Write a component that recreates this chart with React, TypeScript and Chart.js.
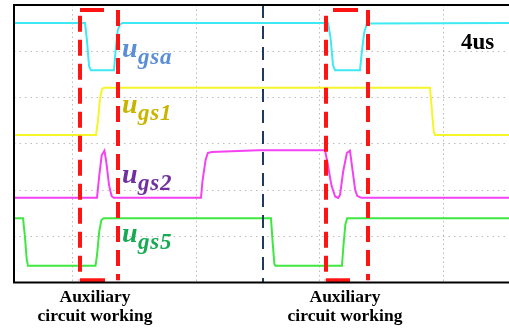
import React, { useEffect, useRef } from "react";
import { Chart, registerables } from "chart.js";

Chart.register(...registerables);

// time axis (us), 4 us / div
const X_MIN = -1.913;
const X_MAX = 14.137;
const X_GRID = [0, 4, 8, 12];
const Y_GRID = [1, 2, 3, 4, 5];

// traces: [time, level]
const UGSA_T = [-1.913, 0.389, 0.45, 0.52, 0.58, 1.33, 1.38, 1.45, 1.52, 1.6, 8.268, 8.35, 8.43, 8.495, 9.306, 9.36, 9.44, 9.53, 14.137];
const UGSA_V = [5.61, 5.61, 5.25, 4.68, 4.59, 4.59, 5.0, 5.45, 5.58, 5.61, 5.61, 5.3, 4.7, 4.59, 4.59, 4.95, 5.4, 5.6, 5.61];

const UGS1_T = [-1.913, 0.746, 0.81, 0.88, 0.94, 1.0, 11.576, 11.64, 11.7, 11.738, 14.137];
const UGS1_V = [3.19, 3.19, 3.5, 4.0, 4.18, 4.21, 4.21, 3.7, 3.25, 3.19, 3.19];

const UGS2_T = [-1.913, 0.778, 0.85, 0.93, 1.02, 1.08, 1.17, 1.25, 1.32, 4.15, 4.2, 4.3, 4.37, 4.5, 6.0, 8.171, 8.25, 8.38, 8.5, 8.6, 8.66, 8.76, 8.88, 8.98, 9.05, 9.15, 9.22, 9.35, 14.137];
const UGS2_V = [1.83, 1.83, 2.3, 2.75, 2.85, 2.6, 2.1, 1.87, 1.83, 1.83, 2.2, 2.65, 2.8, 2.82, 2.86, 2.86, 2.6, 2.1, 1.86, 1.83, 1.9, 2.4, 2.8, 2.85, 2.5, 2.0, 1.87, 1.83, 1.83];

const UGS5_T = [-1.913, -1.62, -1.56, -1.5, -1.46, 0.73, 0.78, 0.85, 0.92, 1.0, 6.42, 6.47, 6.53, 6.56, 8.72, 8.77, 8.83, 8.89, 14.137];
const UGS5_V = [1.39, 1.39, 1.0, 0.5, 0.36, 0.36, 0.6, 1.1, 1.35, 1.39, 1.39, 0.9, 0.4, 0.36, 0.36, 0.8, 1.25, 1.39, 1.39];

// annotation marks: "auxiliary circuit working" windows
const WIN_LEFT = [0.227, 8.204];
const WIN_RIGHT = [1.459, 9.565];
const WIN_TOP_END = [1.005, 9.241];
const WIN_TOP_START = [0.227, 8.431];
const WIN_BOT_END = [1.038, 8.982];
const WIN_TOP = 5.89;
const WIN_BOT = 0.05;
const MARK_T = 6.161;

const pts = (t: number[], v: number[]) => t.map((x, i) => ({ x, y: v[i] }));

const trace = (data: any, color: string) => ({
  data,
  borderColor: color,
  borderWidth: 2,
  pointRadius: 0,
  tension: 0,
  order: 2,
});

const red = "#ff1414";
const redLine = (data: any, dash: number[] | undefined, offset = 0) => ({
  data,
  borderColor: red,
  borderWidth: 4,
  borderDash: dash || [],
  borderDashOffset: offset,
  borderCapStyle: "butt",
  pointRadius: 0,
  order: 0,
});

const framePlugin = {
  id: "frame",
  afterDraw(chart: any) {
    const { ctx, chartArea } = chart;
    ctx.save();
    ctx.strokeStyle = "#000";
    ctx.lineWidth = 2;
    ctx.setLineDash([]);
    ctx.beginPath();
    ctx.moveTo(chartArea.right + 2, chartArea.top);
    ctx.lineTo(chartArea.left, chartArea.top);
    ctx.lineTo(chartArea.left, chartArea.bottom);
    ctx.lineTo(chartArea.right + 2, chartArea.bottom);
    ctx.stroke();
    ctx.restore();
  },
};

const SERIF = "'Liberation Serif', 'Times New Roman', serif";

function Txt(props: { x: number; base: number; size: number; color: string; italic?: boolean; spacing?: number; center?: boolean; children: any }) {
  const { x, base, size, color, italic, spacing, center, children } = props;
  return (
    <div
      style={{
        position: "absolute",
        left: center ? x - 100 : x,
        width: center ? 200 : undefined,
        textAlign: center ? "center" : "left",
        top: base - 0.8375 * size,
        fontFamily: SERIF,
        fontSize: size,
        lineHeight: size + "px",
        fontWeight: "bold",
        fontStyle: italic ? "italic" : "normal",
        color,
        letterSpacing: spacing ? spacing : undefined,
        whiteSpace: "nowrap",
      }}
    >
      {children}
    </div>
  );
}

function Label(props: { base: number; sub: string; color: string }) {
  return (
    <>
      <Txt x={122} base={props.base} size={28} color={props.color} italic>u</Txt>
      <Txt x={138} base={props.base + 7} size={23} color={props.color} italic spacing={0.8}>{props.sub}</Txt>
    </>
  );
}

export default function App() {
  const ref = useRef<HTMLCanvasElement>(null);
  useEffect(() => {
    if (!ref.current) return;
    const datasets: any[] = [
      trace(pts(UGSA_T, UGSA_V), "#3ee9f4"),
      trace(pts(UGS1_T, UGS1_V), "#f6f52a"),
      trace(pts(UGS2_T, UGS2_V), "#f442f2"),
      trace(pts(UGS5_T, UGS5_V), "#3fe83f"),
      {
        data: [{ x: MARK_T, y: 6 }, { x: MARK_T, y: 0 }],
        borderColor: "#1f3a5c",
        borderWidth: 2,
        borderDash: [13, 8],
        pointRadius: 0,
        order: 1,
      },
    ];
    for (let i = 0; i < WIN_LEFT.length; i++) {
      datasets.push(redLine([{ x: WIN_LEFT[i], y: WIN_TOP - 0.12 }, { x: WIN_LEFT[i], y: WIN_BOT }], [16, 8], 0));
      datasets.push(redLine([{ x: WIN_RIGHT[i], y: WIN_TOP }, { x: WIN_RIGHT[i], y: WIN_BOT }], [16, 8], 0));
      datasets.push(redLine([{ x: WIN_TOP_START[i], y: WIN_TOP }, { x: WIN_TOP_END[i], y: WIN_TOP }], undefined));
      datasets.push(redLine([{ x: WIN_LEFT[i], y: WIN_BOT }, { x: WIN_BOT_END[i], y: WIN_BOT }], undefined));
    }
    const gridX = { drawTicks: false, color: "#bcbcbc", lineWidth: 1 };
    const chart = new Chart(ref.current, {
      type: "line",
      data: { datasets },
      options: {
        animation: false,
        responsive: false,
        devicePixelRatio: 1,
        layout: { padding: { left: 14, top: 5, right: 0, bottom: 48.5 } },
        plugins: { legend: { display: false }, tooltip: { enabled: false } },
        scales: {
          x: {
            type: "linear",
            min: X_MIN,
            max: X_MAX,
            ticks: { display: false },
            grid: gridX,
            border: { display: false, dash: [1.5, 3] },
            afterBuildTicks: (s: any) => {
              s.ticks = X_GRID.map((v) => ({ value: v }));
            },
          },
          y: {
            type: "linear",
            min: 0,
            max: 6,
            ticks: { display: false },
            grid: gridX,
            border: { display: false, dash: [1.5, 4] },
            afterBuildTicks: (s: any) => {
              s.ticks = Y_GRID.map((v) => ({ value: v }));
            },
          },
        },
      } as any,
      plugins: [framePlugin],
    });
    return () => chart.destroy();
  }, []);

  return (
    <div style={{ position: "fixed", left: 0, top: 0, width: 509, height: 331, background: "#fff", overflow: "hidden" }}>
      <canvas ref={ref} width={509} height={331} style={{ position: "absolute", left: 0, top: 0, width: 509, height: 331 }} />
      <Label base={57} sub="gsa" color="#5a8fd8" />
      <Label base={113} sub="gs1" color="#c9b400" />
      <Label base={183} sub="gs2" color="#7030a0" />
      <Label base={242} sub="gs5" color="#18aa52" />
      <Txt x={461} base={49} size={23} color="#000">4us</Txt>
      <Txt x={95} base={303} size={17.5} color="#000" center>Auxiliary</Txt>
      <Txt x={95} base={322} size={17.5} color="#000" center>circuit working</Txt>
      <Txt x={345} base={303} size={17.5} color="#000" center>Auxiliary</Txt>
      <Txt x={345} base={322} size={17.5} color="#000" center>circuit working</Txt>
    </div>
  );
}
